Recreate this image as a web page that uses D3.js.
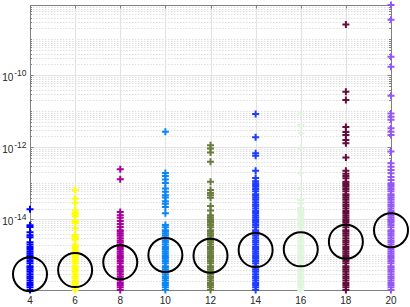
<!DOCTYPE html>
<html>
<head>
<meta charset="utf-8">
<script src="https://cdn.jsdelivr.net/npm/d3@7"></script>
<style>
  body { margin: 0; background: #fff; }
  svg { display: block; font-family: "Liberation Sans", Arial, sans-serif; }
</style>
</head>
<body>
<div id="chart"></div>
<script>
var width = 410;
var height = 307;

// x categories
var groups = [4, 6, 8, 10, 12, 14, 16, 18, 20];

// values per group (dense bottom part + sparse outliers)
var g4 = [1.09e-16,1.3e-16,1.5e-16,1.7e-16,2e-16,2.3e-16,2.6e-16,3e-16,3.5e-16,4e-16,4.5e-16,5e-16,6e-16,7e-16,8e-16,9e-16,
  1e-15,1.15e-15,1.3e-15,1.5e-15,1.7e-15,2e-15,2.3e-15,
  3.2e-15,3.6e-15,4.4e-15,6.1e-15,6.9e-15,1.9e-14];
var g6 = [1.09e-16,1.3e-16,1.5e-16,1.7e-16,2e-16,2.3e-16,2.6e-16,3e-16,3.5e-16,4e-16,4.5e-16,5e-16,6e-16,7e-16,8e-16,9e-16,
  1e-15,1.15e-15,1.3e-15,1.5e-15,1.7e-15,2e-15,
  2.7e-15,3e-15,3.3e-15,3.6e-15,5.7e-15,7.9e-15,9e-15,1.2e-14,1.35e-14,1.5e-14,1.8e-14,2.8e-14,3.8e-14,6.5e-14];
var g8 = [1.09e-16,1.3e-16,1.5e-16,1.7e-16,2e-16,2.3e-16,2.6e-16,3e-16,3.5e-16,4e-16,4.5e-16,5e-16,6e-16,7e-16,8e-16,9e-16,
  1e-15,1.15e-15,1.3e-15,1.5e-15,1.7e-15,2e-15,2.3e-15,2.6e-15,3e-15,3.5e-15,4e-15,4.5e-15,5e-15,
  6.1e-15,7.4e-15,9e-15,1.1e-14,1.3e-14,1.6e-14,1.3e-13,2.45e-13];
var g10 = [1.09e-16,1.3e-16,1.5e-16,1.7e-16,2e-16,2.3e-16,2.6e-16,3e-16,3.5e-16,4e-16,4.5e-16,5e-16,6e-16,7e-16,8e-16,9e-16,
  1e-15,1.15e-15,1.3e-15,1.5e-15,1.7e-15,2e-15,2.3e-15,2.6e-15,3e-15,3.5e-15,4e-15,4.5e-15,5e-15,6e-15,7e-15,
  1.47e-14,2.2e-14,2.7e-14,3.2e-14,4.05e-14,4.7e-14,5.8e-14,7.2e-14,1.02e-13,1.28e-13,1.6e-13,1.95e-13,2.7e-12];
var g12 = [1.09e-16,1.3e-16,1.5e-16,1.7e-16,2e-16,2.3e-16,2.6e-16,3e-16,3.5e-16,4e-16,4.5e-16,5e-16,6e-16,7e-16,8e-16,9e-16,
  1e-15,1.15e-15,1.3e-15,1.5e-15,1.7e-15,2e-15,2.3e-15,2.6e-15,3e-15,3.5e-15,4e-15,4.5e-15,5e-15,6e-15,7e-15,8e-15,9e-15,
  1e-14,1.15e-14,1.3e-14,
  1.75e-14,2.35e-14,4e-14,4.7e-14,5.4e-14,6.5e-14,1.1e-13,4e-13,7.2e-13,9.3e-13,1.15e-12];
var g14 = [1.09e-16,1.3e-16,1.5e-16,1.7e-16,2e-16,2.3e-16,2.6e-16,3e-16,3.5e-16,4e-16,4.5e-16,5e-16,6e-16,7e-16,8e-16,9e-16,
  1e-15,1.15e-15,1.3e-15,1.5e-15,1.7e-15,2e-15,2.3e-15,2.6e-15,3e-15,3.5e-15,4e-15,4.5e-15,5e-15,6e-15,7e-15,8e-15,9e-15,
  1e-14,1.15e-14,1.3e-14,1.5e-14,1.7e-14,2e-14,2.3e-14,2.6e-14,3e-14,3.5e-14,4e-14,4.5e-14,5e-14,6e-14,7e-14,8e-14,9e-14,
  1e-13,1.15e-13,1.4e-13,
  2.24e-13,5.8e-13,6.8e-13,1.9e-12,8.4e-12];
var g16 = [1.09e-16,1.3e-16,1.5e-16,1.7e-16,2e-16,2.3e-16,2.6e-16,3e-16,3.5e-16,4e-16,4.5e-16,5e-16,6e-16,7e-16,8e-16,9e-16,
  1e-15,1.15e-15,1.3e-15,1.5e-15,1.7e-15,2e-15,2.3e-15,2.6e-15,3e-15,3.5e-15,4e-15,4.5e-15,5e-15,6e-15,7e-15,8e-15,9e-15,
  1e-14,1.15e-14,1.3e-14,1.5e-14,1.7e-14,2.05e-14,
  2.78e-14,3.45e-14,7.3e-14,1.95e-13,9.3e-13,2.45e-12,4.2e-12,8.7e-12];
var g18 = [1.09e-16,1.3e-16,1.5e-16,1.7e-16,2e-16,2.3e-16,2.6e-16,3e-16,3.5e-16,4e-16,4.5e-16,5e-16,6e-16,7e-16,8e-16,9e-16,
  1e-15,1.15e-15,1.3e-15,1.5e-15,1.7e-15,2e-15,2.3e-15,2.6e-15,3e-15,3.5e-15,4e-15,4.5e-15,5e-15,6e-15,7e-15,8e-15,9e-15,
  1e-14,1.15e-14,1.3e-14,1.5e-14,1.7e-14,2e-14,2.3e-14,2.6e-14,3e-14,3.5e-14,4e-14,4.5e-14,5e-14,6e-14,7e-14,8e-14,9e-14,
  1e-13,1.1e-13,
  1.38e-13,1.6e-13,1.85e-13,2.24e-13,5.2e-13,1.3e-12,1.6e-12,2.2e-12,2.65e-12,3.7e-12,2.05e-11,3.5e-11,2.6e-9];
var g20 = [1.09e-16,1.3e-16,1.5e-16,1.7e-16,2e-16,2.3e-16,2.6e-16,3e-16,3.5e-16,4e-16,4.5e-16,5e-16,6e-16,7e-16,8e-16,9e-16,
  1e-15,1.15e-15,1.3e-15,1.5e-15,1.7e-15,2e-15,2.3e-15,2.6e-15,3e-15,3.5e-15,4e-15,4.5e-15,5e-15,6e-15,7e-15,8e-15,9e-15,
  1e-14,1.15e-14,1.3e-14,1.5e-14,1.7e-14,2e-14,2.3e-14,2.6e-14,3e-14,3.5e-14,4e-14,4.5e-14,5e-14,6e-14,7e-14,8e-14,9e-14,
  1e-13,1.23e-13,
  1.5e-13,1.9e-13,2.35e-13,2.9e-13,3.6e-13,7.6e-13,2.2e-12,2.7e-12,3.4e-12,5.8e-12,7.1e-12,8.7e-12,2.7e-11,1.74e-10,3.3e-10,3.5e-9,8.98e-9];

// circle markers (typical value per group)
var medians = [3.0e-16, 3.9e-16, 6.4e-16, 1.02e-15, 9.8e-16, 1.4e-15, 1.47e-15, 2.4e-15, 5.0e-15];

// tick labels
var xTicks = [4, 6, 8, 10, 12, 14, 16, 18, 20];
var yTicks = [1e-14, 1e-12, 1e-10];

var colors = ["#0000ff", "#ffff00", "#a8009c", "#0b86f2", "#687d3f", "#1f3dff", "#dff6dc", "#640c3c", "#9557f5"];

var series = [g4, g6, g8, g10, g12, g14, g16, g18, g20];

var margin = {left: 30, right: 19, top: 5, bottom: 17};
var x0 = margin.left, x1 = width - margin.right;
var y0 = height - margin.bottom, y1 = margin.top;

var svg = d3.select("#chart").append("svg")
    .attr("width", width)
    .attr("height", height);

var all = d3.merge(series);
var x = d3.scaleLinear().domain([4, 20]).range([x0, x1]);
var y = d3.scaleLog().domain(d3.extent(all)).range([y0, y1]);

// minor y positions
var dom = y.domain();
var minor = [];
for (var e = Math.floor(Math.log10(dom[0])); e <= Math.ceil(Math.log10(dom[1])); e++) {
    for (var k = 1; k <= 9; k++) {
        var v = k * Math.pow(10, e);
        if (v >= dom[0] && v <= dom[1] && !(k === 1 && e % 2 === 0)) minor.push(v);
    }
}

var grid = svg.append("g");
grid.selectAll(".ymin").data(minor).enter().append("line")
    .attr("x1", x0).attr("x2", x1)
    .attr("y1", d => Math.round(y(d)) + 0.5).attr("y2", d => Math.round(y(d)) + 0.5)
    .attr("stroke", "#d6d6d6")
    .attr("stroke-dasharray", "1.5,1.5")
    .attr("stroke-width", 0.8);
grid.selectAll(".ymaj").data(yTicks).enter().append("line")
    .attr("x1", x0).attr("x2", x1)
    .attr("y1", d => Math.round(y(d)) + 0.5).attr("y2", d => Math.round(y(d)) + 0.5)
    .attr("stroke", "#e2e2e2");
grid.selectAll(".xg").data(xTicks.slice(1, -1)).enter().append("line")
    .attr("x1", d => Math.round(x(d)) + 0.5).attr("x2", d => Math.round(x(d)) + 0.5)
    .attr("y1", y1).attr("y2", y0)
    .attr("stroke", "#e2e2e2");

// axes box with inward ticks
var axisColor = "#808080";
var ax = svg.append("g").attr("stroke", axisColor).attr("fill", "none");
ax.append("rect")
    .attr("x", x0 + 0.5).attr("y", y1 + 0.5)
    .attr("width", x1 - x0).attr("height", y0 - y1);
xTicks.forEach(function(t) {
    var px = Math.round(x(t)) + 0.5;
    ax.append("line").attr("x1", px).attr("x2", px).attr("y1", y0).attr("y2", y0 - 3.5);
    ax.append("line").attr("x1", px).attr("x2", px).attr("y1", y1).attr("y2", y1 + 3.5);
});
yTicks.forEach(function(t) {
    var py = Math.round(y(t)) + 0.5;
    ax.append("line").attr("x1", x0).attr("x2", x0 + 3.5).attr("y1", py).attr("y2", py);
    ax.append("line").attr("x1", x1).attr("x2", x1 - 3.5).attr("y1", py).attr("y2", py);
});
minor.forEach(function(t) {
    var py = Math.round(y(t)) + 0.5;
    ax.append("line").attr("x1", x0).attr("x2", x0 + 2).attr("y1", py).attr("y2", py);
    ax.append("line").attr("x1", x1).attr("x2", x1 - 2).attr("y1", py).attr("y2", py);
});

// tick labels
svg.append("g").selectAll("text").data(xTicks).enter().append("text")
    .attr("x", d => x(d))
    .attr("y", 304)
    .attr("text-anchor", "middle")
    .attr("font-size", 10)
    .attr("fill", "#262626")
    .text(d => d);

var yl = svg.append("g").selectAll("text").data(yTicks).enter().append("text")
    .attr("x", 26.5)
    .attr("y", d => y(d) + 5.5)
    .attr("text-anchor", "end")
    .attr("font-size", 10)
    .attr("fill", "#262626");
yl.append("tspan").text("10");
yl.append("tspan").attr("dx", 0.8).attr("dy", -4.5).attr("font-size", 8.5)
    .text(d => "-" + Math.round(-Math.log10(d)));

// plus markers
var pts = svg.append("g");
series.forEach(function(vals, i) {
    var cx = x(groups[i]);
    pts.append("g")
        .attr("stroke", colors[i])
        .attr("stroke-width", 2)
        .selectAll("path").data(vals).enter().append("path")
        .attr("d", d => {
            var cy = y(d);
            return "M" + (cx - 3.5) + "," + cy + "H" + (cx + 3.5) + "M" + cx + "," + (cy - 3.5) + "V" + (cy + 3.5);
        });
});

// circles
svg.append("g").selectAll("circle").data(medians).enter().append("circle")
    .attr("cx", (d, i) => x(groups[i]))
    .attr("cy", d => y(d))
    .attr("r", 17)
    .attr("fill", "none")
    .attr("stroke", "#000")
    .attr("stroke-width", 2);
</script>
</body>
</html>
